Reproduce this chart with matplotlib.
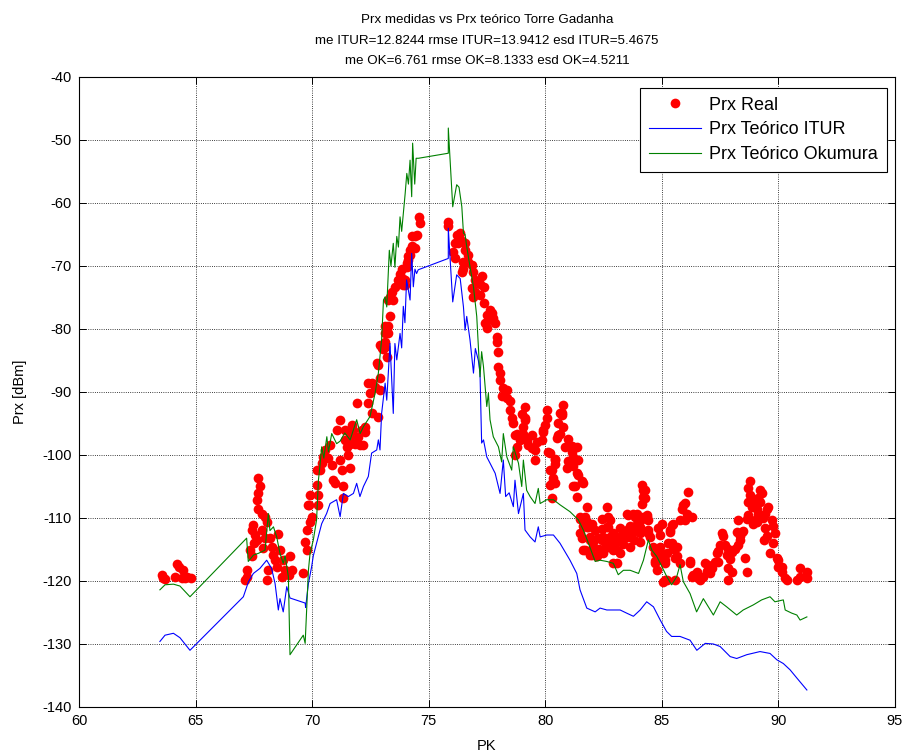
import matplotlib
matplotlib.use("Agg")
import matplotlib.pyplot as plt

plt.rcParams["font.family"] = ["Liberation Sans", "DejaVu Sans"]
plt.rcParams["axes.unicode_minus"] = False

# Theoretical received power, ITU-R model (PK [km], Prx [dBm])
itur_pk = [63.47, 63.69, 64.05, 64.33, 64.76, 67.05, 67.27, 67.48, 67.76, 68.05,
           68.26, 68.41, 68.55, 68.62, 68.76, 68.91, 69.05, 69.70, 69.72, 69.84,
           69.98, 70.05, 70.19, 70.41, 70.62, 70.77, 71.05, 71.20, 71.34, 71.55,
           71.77, 71.91, 72.05, 72.20, 72.41, 72.55, 72.77, 72.84, 72.91, 72.98,
           73.13, 73.20, 73.34, 73.48, 73.55, 73.63, 73.77, 73.84, 73.91, 73.98,
           74.05, 74.20, 74.27, 74.34, 74.41, 74.48, 74.55, 75.84, 75.84, 75.92,
           76.03, 76.20, 76.35, 76.49, 76.56, 76.63, 76.77, 76.92, 77.00, 77.13,
           77.20, 77.27, 77.35, 77.49, 77.63, 77.85, 78.06, 78.20, 78.30, 78.45,
           78.63, 78.70, 78.85, 79.06, 79.13, 79.35, 79.56, 79.70, 79.78, 80.06,
           80.35, 80.63, 81.06, 81.35, 81.49, 81.78, 82.14, 82.35, 82.64, 82.92,
           83.21, 83.49, 83.78, 84.07, 84.35, 84.64, 84.93, 85.20, 85.42, 85.78,
           86.21, 86.50, 86.86, 87.21, 87.50, 87.93, 88.21, 88.64, 89.21, 89.64,
           89.93, 90.21, 90.50, 90.79, 91.22]
itur_prx = [-129.6, -128.6, -128.3, -129.0, -131.0, -122.5, -120.1, -118.8, -118.0, -116.7,
            -118.0, -120.4, -124.6, -122.8, -124.9, -120.9, -122.7, -123.5, -124.2, -120.4,
            -117.7, -116.0, -114.0, -110.9, -109.3, -107.7, -107.1, -109.8, -106.1, -106.6,
            -106.1, -104.5, -106.6, -105.0, -103.4, -99.7, -99.2, -97.6, -99.2, -93.4,
            -88.6, -91.3, -82.3, -93.4, -82.3, -84.9, -80.7, -83.0, -76.4, -79.0,
            -72.2, -75.4, -68.0, -73.3, -70.5, -71.2, -70.6, -68.8, -64.0, -69.0,
            -75.7, -71.4, -72.0, -76.5, -80.2, -78.0, -81.7, -87.0, -83.1, -85.0,
            -87.0, -98.1, -97.6, -100.3, -101.3, -102.9, -106.1, -100.8, -106.6, -106.0,
            -108.2, -104.0, -109.3, -106.1, -111.9, -113.0, -113.8, -111.4, -113.0, -112.7,
            -112.7, -114.0, -116.7, -118.8, -121.4, -124.3, -124.9, -124.3, -124.6, -124.6,
            -124.6, -125.1, -125.6, -124.6, -123.3, -124.1, -126.2, -128.0, -128.8, -128.8,
            -129.4, -131.0, -129.9, -130.0, -130.4, -132.0, -132.3, -131.7, -131.2, -131.5,
            -132.5, -133.1, -134.1, -135.4, -137.3]

# Theoretical received power, Okumura model
okum_pk = [63.47, 63.69, 64.05, 64.33, 64.76, 67.19, 67.26, 67.48, 67.70, 67.98,
           68.12, 68.19, 68.34, 68.48, 68.62, 68.76, 68.84, 68.98, 69.05, 69.62,
           69.70, 69.77, 69.84, 69.91, 70.05, 70.19, 70.27, 70.34, 70.41, 70.50,
           70.63, 70.70, 70.84, 71.05, 71.20, 71.40, 71.63, 71.91, 72.06, 72.20,
           72.48, 72.70, 72.84, 72.91, 72.98, 73.06, 73.13, 73.20, 73.31, 73.38,
           73.48, 73.55, 73.63, 73.70, 73.77, 73.84, 73.99, 74.06, 74.13, 74.20,
           74.27, 74.31, 74.40, 74.46, 74.56, 75.84, 75.84, 76.03, 76.20, 76.30,
           76.42, 76.49, 76.56, 76.63, 76.77, 76.92, 77.06, 77.20, 77.27, 77.35,
           77.49, 77.56, 77.63, 77.77, 77.99, 78.13, 78.20, 78.35, 78.56, 78.63,
           78.85, 78.99, 79.06, 79.20, 79.35, 79.56, 79.70, 79.78, 80.06, 80.35,
           80.63, 81.06, 81.42, 81.63, 81.85, 82.14, 82.35, 82.64, 82.92, 83.13,
           83.35, 83.64, 84.00, 84.21, 84.42, 84.57, 84.78, 85.00, 85.21, 85.42,
           85.64, 85.78, 85.92, 86.21, 86.49, 86.78, 87.21, 87.50, 87.78, 88.21,
           88.49, 88.92, 89.28, 89.64, 89.85, 90.21, 90.29, 90.57, 90.79, 90.93,
           91.22]
okum_prx = [-121.4, -120.6, -120.5, -120.8, -122.5, -113.2, -116.9, -115.9, -115.6, -115.1,
            -109.3, -112.0, -111.4, -113.0, -115.6, -117.2, -116.0, -119.3, -131.7, -128.6,
            -129.9, -124.1, -118.3, -115.6, -113.5, -110.3, -104.0, -101.5, -98.7, -100.5,
            -97.1, -99.5, -96.6, -98.2, -97.8, -96.5, -97.6, -94.4, -96.6, -95.5,
            -93.9, -90.2, -87.0, -84.4, -81.7, -75.4, -74.9, -76.5, -67.5, -70.0,
            -66.4, -70.2, -65.3, -67.0, -62.2, -64.5, -58.5, -55.3, -57.0, -53.2,
            -59.0, -50.5, -57.0, -52.9, -52.9, -52.1, -48.1, -60.6, -57.1, -57.5,
            -60.6, -64.8, -65.0, -66.9, -70.1, -73.3, -78.0, -87.6, -83.6, -86.0,
            -92.3, -90.2, -94.4, -97.1, -98.7, -101.1, -96.6, -100.3, -102.4, -98.7,
            -101.3, -105.0, -100.8, -105.6, -106.6, -107.7, -105.3, -107.7, -107.1, -107.1,
            -107.9, -109.0, -110.3, -111.9, -114.0, -116.9, -116.7, -116.9, -117.2, -119.0,
            -118.3, -118.3, -118.8, -116.7, -113.5, -115.1, -116.1, -117.7, -119.3, -120.6,
            -119.3, -117.4, -120.1, -122.0, -124.9, -122.8, -125.4, -123.3, -124.1, -125.4,
            -124.6, -123.8, -123.0, -122.5, -123.3, -123.0, -124.6, -125.1, -125.4, -126.2,
            -125.7]

# Measured received power (PK, Prx)
real_meas = [
    (63.55, -119.0), (63.62, -119.6), (63.69, -119.7), (64.12, -119.4), (64.19, -117.3),
    (64.27, -117.8), (64.41, -119.6), (64.47, -118.3), (64.55, -119.5), (64.62, -119.3),
    (64.79, -119.6),
    (67.69, -103.7), (67.76, -105.0), (67.69, -106.1), (67.62, -107.1), (67.69, -108.5),
    (67.84, -109.3), (67.98, -109.8), (68.05, -110.6), (67.48, -111.1), (67.41, -111.9),
    (67.55, -112.7), (67.62, -113.5), (67.84, -111.9), (67.98, -113.2), (67.91, -114.8),
    (67.33, -115.1), (67.40, -116.0), (67.19, -119.3), (67.12, -119.8), (67.19, -118.3),
    (68.05, -119.8), (68.12, -118.3), (68.26, -114.6), (68.34, -115.9), (68.41, -116.7),
    (68.48, -117.7), (68.62, -115.1), (68.76, -116.7), (68.84, -118.3), (68.69, -119.3),
    (69.05, -116.1), (69.12, -118.3), (69.00, -119.1), (68.19, -113.2), (68.55, -112.5),
    (67.50, -114.0),
    (69.62, -118.8), (69.70, -113.8), (69.77, -115.1), (69.77, -111.9), (69.91, -110.6),
    (69.98, -109.8), (69.88, -107.9), (69.91, -106.3), (70.19, -104.8), (70.27, -106.3),
    (70.19, -102.4), (70.27, -107.9), (69.84, -107.9),
    (70.34, -102.4), (70.41, -101.3), (70.48, -100.3), (70.55, -99.2), (70.77, -98.4),
    (70.70, -100.5), (70.84, -101.6), (70.91, -104.0), (70.98, -104.5), (71.20, -100.8),
    (71.27, -102.4), (71.34, -105.0), (71.34, -106.9), (71.63, -102.1), (71.55, -100.0),
    (71.48, -98.7), (71.41, -97.6), (71.63, -97.1), (71.77, -96.0), (71.70, -95.2),
    (71.84, -98.2), (72.06, -98.4), (72.20, -98.4), (72.13, -96.0), (72.27, -96.3),
    (71.91, -91.8), (71.20, -94.4), (71.05, -96.0), (72.55, -93.4), (72.41, -91.8),
    (72.48, -90.2), (72.55, -88.6), (72.70, -89.2), (72.91, -89.7), (72.91, -87.8),
    (72.41, -88.6), (72.84, -93.9), (72.77, -85.4), (72.91, -82.5), (73.13, -82.8),
    (73.20, -84.4), (73.13, -80.7), (71.63, -98.2), (71.98, -97.1), (72.27, -95.5),
    (72.84, -85.7), (73.06, -83.1), (71.41, -96.0),
    (73.27, -79.6), (73.34, -78.0), (73.27, -75.4), (73.41, -74.1), (73.48, -75.4),
    (73.56, -73.3), (73.70, -72.2), (73.77, -71.2), (73.84, -70.4), (73.91, -72.0),
    (73.99, -72.2), (73.91, -73.0), (74.06, -70.1), (74.13, -69.0), (74.20, -68.3),
    (74.27, -66.9), (74.27, -65.3), (74.41, -67.2), (74.49, -65.1), (74.60, -62.2),
    (74.63, -63.2), (74.41, -65.2), (73.34, -75.0), (73.13, -79.6), (73.27, -80.7),
    (73.13, -82.1), (72.99, -83.0), (73.99, -73.0), (74.06, -69.6), (74.13, -68.4),
    (74.20, -67.5),
    (75.84, -63.0), (75.84, -63.6), (76.20, -65.1), (76.34, -64.8), (76.13, -66.4),
    (76.27, -66.4), (76.42, -66.1), (76.56, -66.4), (76.06, -67.7), (76.13, -68.8),
    (76.56, -67.5), (76.70, -68.3), (76.70, -69.3), (76.84, -69.8), (76.49, -70.4),
    (76.42, -70.9), (76.49, -69.4), (76.92, -70.9), (76.99, -72.2), (76.84, -73.5),
    (76.99, -74.1), (76.92, -74.9), (77.27, -71.6), (77.20, -72.8), (77.35, -73.4),
    (77.20, -74.6), (77.35, -75.9), (77.63, -77.0), (77.70, -77.5), (77.49, -77.8),
    (77.77, -78.3), (77.56, -78.6), (77.42, -79.1), (77.85, -79.1), (77.49, -79.9),
    (77.92, -81.2), (77.92, -82.1), (77.99, -83.6), (77.99, -86.0), (78.06, -87.0),
    (78.06, -88.1), (78.20, -89.4), (78.35, -89.7), (78.13, -90.7), (78.35, -90.9),
    (78.49, -91.5), (78.49, -92.9), (78.56, -94.1), (78.63, -95.0), (78.70, -96.8),
    (79.13, -92.4), (79.13, -94.1), (79.04, -95.6), (80.06, -92.9), (80.06, -94.1),
    (80.00, -95.2), (79.92, -96.0), (80.63, -93.4), (78.78, -96.6), (79.06, -96.6),
    (78.92, -97.6), (78.78, -98.7), (78.70, -100.0), (79.20, -97.6), (79.41, -96.8),
    (79.27, -98.4), (79.41, -98.9), (79.56, -99.2), (79.63, -98.0), (79.56, -100.8),
    (79.84, -97.6), (79.92, -96.3), (80.13, -99.5), (80.20, -102.4), (80.27, -104.5),
    (80.20, -104.8), (80.42, -100.8), (80.27, -106.9), (80.56, -96.8), (80.70, -93.4),
    (80.78, -92.1), (80.71, -93.7), (80.56, -95.0), (80.78, -95.5), (80.63, -96.6),
    (80.49, -97.3), (80.99, -97.4), (80.85, -98.7), (81.13, -98.5), (81.35, -98.7),
    (81.13, -99.5), (81.20, -100.3), (81.42, -100.8), (80.99, -101.0), (80.92, -102.1),
    (81.20, -101.8), (81.35, -102.9), (81.56, -104.2), (81.20, -105.0), (81.35, -106.6),
    (80.20, -99.7), (80.42, -100.6), (80.42, -101.4), (80.27, -102.4), (80.34, -103.7),
    (80.42, -104.5), (81.42, -103.2), (81.28, -105.0), (81.63, -104.5), (79.13, -94.4),
    (78.98, -93.5),
    (81.78, -108.2), (81.70, -109.8), (81.78, -110.6), (81.49, -110.1), (81.63, -111.2),
    (81.85, -111.4), (81.99, -110.9), (81.49, -112.4), (81.56, -113.2), (81.63, -115.1),
    (81.92, -113.0), (82.13, -111.9), (82.06, -113.8), (81.99, -115.9), (82.20, -116.1),
    (82.27, -113.2), (82.42, -113.5), (82.42, -110.1), (82.42, -111.7), (82.64, -111.4),
    (82.64, -108.2), (82.71, -109.8), (82.56, -113.3), (82.63, -114.6), (82.49, -115.6),
    (82.78, -113.0), (82.85, -114.1), (82.92, -115.1), (83.06, -117.2), (83.21, -111.6),
    (83.28, -113.5), (83.35, -114.2), (83.42, -112.4), (83.49, -111.9), (83.56, -113.0),
    (83.71, -112.4), (83.78, -111.6), (83.92, -110.9), (83.99, -110.1), (83.85, -109.8),
    (83.56, -109.5), (83.14, -113.0), (83.64, -114.6), (84.07, -111.4), (84.13, -110.1),
    (84.21, -109.8), (84.35, -109.5), (84.42, -110.3), (84.07, -112.2), (84.07, -113.8),
    (84.14, -107.7), (84.21, -106.6), (84.21, -105.6), (84.14, -104.8), (84.42, -111.9),
    (84.49, -113.0), (84.64, -114.6), (84.71, -115.6), (84.78, -116.7), (84.85, -111.6),
    (84.99, -110.9), (84.92, -112.7), (84.92, -114.6), (84.71, -117.2), (84.78, -118.3),
    (85.07, -115.9), (85.14, -116.6), (85.21, -119.8), (85.07, -120.1), (85.35, -111.9),
    (85.42, -111.1), (85.49, -110.9), (85.42, -114.0), (85.49, -115.0), (85.64, -114.6),
    (85.56, -116.4), (85.64, -116.1), (85.78, -110.3), (85.85, -108.5), (85.92, -107.9),
    (86.00, -107.6), (86.07, -109.3), (86.14, -105.8), (86.00, -110.3), (86.21, -117.2),
    (86.28, -109.8), (86.49, -118.5), (86.35, -119.1), (85.57, -119.8), (81.49, -109.8),
    (81.78, -111.4), (81.92, -113.5), (82.06, -114.6), (81.92, -115.9), (81.70, -115.1),
    (82.49, -113.0), (82.56, -114.8), (82.78, -110.3), (82.71, -111.4), (82.92, -112.4),
    (82.99, -114.0), (83.06, -115.1), (83.35, -112.4), (83.49, -109.3), (83.64, -111.3),
    (83.78, -109.3), (83.92, -109.3), (84.07, -112.4), (84.28, -105.6), (84.28, -106.9),
    (84.35, -109.8), (84.42, -112.4), (84.71, -116.9), (85.21, -115.6), (85.78, -117.2),
    (85.28, -114.0), (85.35, -112.2), (85.14, -117.2), (85.14, -119.8), (86.21, -116.9),
    (86.28, -119.3), (82.92, -117.2), (83.20, -115.5), (83.80, -113.5), (82.30, -115.0),
    (86.49, -118.8), (86.56, -119.6), (86.64, -119.8), (86.78, -119.4), (86.86, -117.2),
    (86.93, -118.4), (87.07, -118.7), (87.14, -118.0), (87.28, -117.0), (87.35, -115.6),
    (87.42, -115.2), (87.49, -114.3), (87.56, -112.4), (87.63, -112.9), (87.71, -114.3),
    (87.85, -115.0), (87.78, -115.9), (87.92, -116.5), (87.85, -118.0), (88.00, -118.5),
    (87.85, -119.8), (87.42, -117.0), (88.00, -115.4), (88.14, -115.0), (88.28, -114.3),
    (88.35, -113.5), (88.43, -112.2), (88.35, -112.9), (88.21, -112.2), (88.28, -110.3),
    (88.49, -112.0), (88.57, -116.4), (88.64, -118.5), (88.64, -110.1), (88.71, -109.5),
    (88.71, -107.4), (88.78, -106.3), (88.71, -105.2), (88.78, -104.2), (88.85, -108.2),
    (89.00, -110.3), (88.92, -110.9), (89.07, -110.6), (89.14, -109.3), (89.07, -108.5),
    (89.21, -107.4), (89.14, -106.8), (89.21, -105.6), (89.28, -106.0), (89.00, -107.2),
    (89.43, -109.3), (89.50, -108.5), (89.57, -108.2), (89.35, -110.0), (89.43, -111.6),
    (89.50, -112.9), (89.36, -113.5), (89.71, -110.3), (89.78, -111.3), (89.85, -112.4),
    (89.78, -113.9), (89.64, -115.6), (89.93, -116.4), (89.99, -116.7), (89.99, -117.7),
    (90.14, -117.7), (90.14, -118.5), (90.29, -119.6), (90.36, -119.8), (90.79, -119.8),
    (90.93, -118.0), (90.93, -119.3), (91.22, -118.5), (91.22, -119.6), (87.00, -117.5),
]

title_lines = [
    "Prx medidas vs Prx teórico Torre Gadanha",
    "me ITUR=12.8244 rmse ITUR=13.9412 esd ITUR=5.4675",
    "me OK=6.761 rmse OK=8.1333 esd OK=4.5211",
]
x_ticks = [60, 65, 70, 75, 80, 85, 90, 95]
y_ticks = [-140, -130, -120, -110, -100, -90, -80, -70, -60, -50, -40]

fig = plt.figure(figsize=(9.07, 7.56), dpi=100)
ax = fig.add_axes([79 / 907, 1 - 707 / 756, 816 / 907, 630 / 756])

real_pk = [p for p, _ in real_meas]
real_prx = [v for _, v in real_meas]

ax.plot(real_pk, real_prx, linestyle="none", marker="o", markersize=7,
        color="#ff0000", markeredgewidth=0, label="Prx Real")
ax.plot(itur_pk, itur_prx, color="#0000ff", linewidth=0.8, label="Prx Teórico ITUR")
ax.plot(okum_pk, okum_prx, color="#008000", linewidth=0.8, label="Prx Teórico Okumura")

ax.set_xlim(60, 95)
ax.set_ylim(-140, -40)
ax.set_xticks(x_ticks)
ax.set_yticks(y_ticks)
ax.grid(True, linestyle=":", color="black", linewidth=0.6)
ax.tick_params(direction="in", top=True, right=True, length=5, width=0.7,
               labelsize=10.5, pad=5)
for sp in ax.spines.values():
    sp.set_linewidth(0.8)

ax.set_title("\n".join(title_lines), fontsize=9.6, linespacing=1.95, pad=9)
ax.set_xlabel("PK", fontsize=10.5, labelpad=8)
ax.set_ylabel("Prx [dBm]", fontsize=10.5, labelpad=11)

leg = ax.legend(loc="upper right", bbox_to_anchor=(0.99, 0.983), fontsize=13,
                frameon=True, fancybox=False, edgecolor="black", framealpha=1,
                handlelength=2.9, handletextpad=0.45, borderpad=0.5,
                labelspacing=0.42, borderaxespad=0.0, numpoints=1)
leg.get_frame().set_linewidth(0.8)

fig.savefig("out.png", dpi=100)
